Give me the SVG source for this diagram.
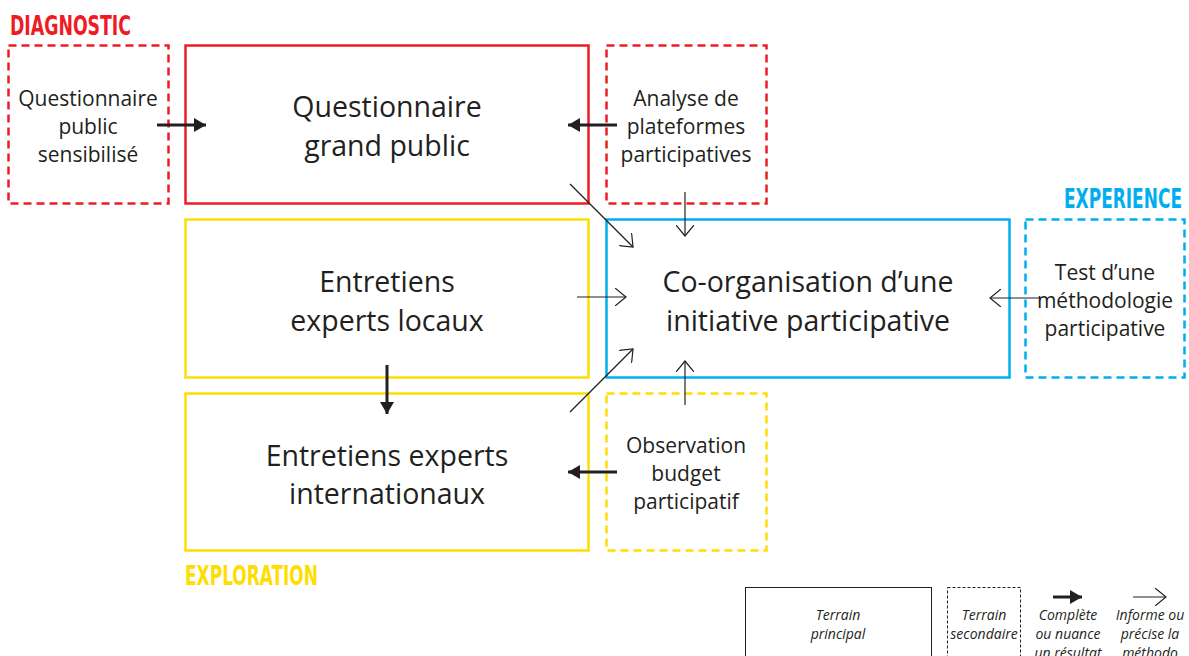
<svg xmlns="http://www.w3.org/2000/svg" width="1189" height="656" viewBox="0 0 1189 656">
<style>
.t{font-family:"Open Sans","Noto Sans",sans-serif;fill:#231F20;text-anchor:middle}
.big{font-size:28.5px}
.sm{font-size:21px}
.lg{font-family:"Open Sans","Noto Sans",sans-serif;fill:#231F20;text-anchor:middle;font-size:14px;font-style:italic}
.hd{font-family:"DejaVu Sans Condensed","DejaVu Sans",sans-serif;font-weight:bold;font-size:27px}
.box{fill:none;stroke-width:2.5}
.dash{stroke-dasharray:8 5}
.red{stroke:#ED1C24}
.yel{stroke:#FFDD00}
.blu{stroke:#00AEEF}
.thick{stroke:#231F20;stroke-width:3;fill:none}
.thin{stroke:#231F20;stroke-width:1.2;fill:none}
</style>
<defs>
<marker id="hT" viewBox="0 0 12 14" refX="12" refY="7" markerWidth="12" markerHeight="14" markerUnits="userSpaceOnUse" orient="auto">
<path d="M0,0 L12,7 L0,14 Z" fill="#231F20"/>
</marker>
<marker id="hN" viewBox="0 0 12 18" refX="11" refY="9" markerWidth="12" markerHeight="18" markerUnits="userSpaceOnUse" orient="auto">
<path d="M0,0 L11,9 L0,18" fill="none" stroke="#231F20" stroke-width="1.2"/>
</marker>
</defs>

<text class="hd" x="10" y="35" fill="#ED1C24" textLength="121" lengthAdjust="spacingAndGlyphs">DIAGNOSTIC</text>
<text class="hd" x="1064" y="208" fill="#00AEEF" textLength="118" lengthAdjust="spacingAndGlyphs">EXPERIENCE</text>
<text class="hd" x="185" y="585" fill="#FFDD00" textLength="133" lengthAdjust="spacingAndGlyphs">EXPLORATION</text>

<g id="q-sensibilise">
<rect class="box dash red" x="8.5" y="45.5" width="160" height="158"/>
<text class="t sm" x="88" y="106">Questionnaire</text>
<text class="t sm" x="88" y="134">public</text>
<text class="t sm" x="88" y="162">sensibilisé</text>
</g>
<g id="q-grand-public">
<rect class="box red" x="185.5" y="45.5" width="403" height="158"/>
<text class="t big" x="387" y="117">Questionnaire</text>
<text class="t big" x="387" y="156">grand public</text>
</g>
<g id="analyse">
<rect class="box dash red" x="606.5" y="45.5" width="160" height="158"/>
<text class="t sm" x="686" y="106">Analyse de</text>
<text class="t sm" x="686" y="134">plateformes</text>
<text class="t sm" x="686" y="162">participatives</text>
</g>
<g id="locaux">
<rect class="box yel" x="185.5" y="219.5" width="403" height="158"/>
<text class="t big" x="387" y="292">Entretiens</text>
<text class="t big" x="387" y="331">experts locaux</text>
</g>
<g id="coorg">
<rect class="box blu" x="606.5" y="219.5" width="403" height="158"/>
<text class="t big" x="808" y="292">Co-organisation d’une</text>
<text class="t big" x="808" y="331">initiative participative</text>
</g>
<g id="test">
<rect class="box dash blu" x="1025.5" y="219.5" width="159" height="158"/>
<text class="t sm" x="1105" y="280">Test d’une</text>
<text class="t sm" x="1105" y="308">méthodologie</text>
<text class="t sm" x="1105" y="336">participative</text>
</g>
<g id="internationaux">
<rect class="box yel" x="185.5" y="393.5" width="403" height="157"/>
<text class="t big" x="387" y="466">Entretiens experts</text>
<text class="t big" x="387" y="504">internationaux</text>
</g>
<g id="observation">
<rect class="box dash yel" x="606.5" y="393.5" width="160" height="157"/>
<text class="t sm" x="686" y="453">Observation</text>
<text class="t sm" x="686" y="481">budget</text>
<text class="t sm" x="686" y="509">participatif</text>
</g>

<g id="connectors">
<line class="thick" x1="157" y1="125" x2="206" y2="125" marker-end="url(#hT)"/>
<line class="thick" x1="617" y1="125" x2="568" y2="125" marker-end="url(#hT)"/>
<line class="thick" x1="387" y1="365" x2="387" y2="414" marker-end="url(#hT)"/>
<line class="thick" x1="617" y1="472" x2="568" y2="472" marker-end="url(#hT)"/>
<line class="thin" x1="570" y1="184" x2="633" y2="247" marker-end="url(#hN)"/>
<line class="thin" x1="685" y1="192" x2="685" y2="236" marker-end="url(#hN)"/>
<line class="thin" x1="577" y1="297" x2="626" y2="297" marker-end="url(#hN)"/>
<line class="thin" x1="1040" y1="298" x2="990" y2="298" marker-end="url(#hN)"/>
<line class="thin" x1="570" y1="412" x2="633" y2="349" marker-end="url(#hN)"/>
<line class="thin" x1="685" y1="405" x2="685" y2="361" marker-end="url(#hN)"/>
</g>

<g id="legend">
<rect x="745.5" y="587.5" width="186" height="80" fill="none" stroke="#231F20" stroke-width="1"/>
<text class="lg" x="838" y="620">Terrain</text>
<text class="lg" x="838" y="639">principal</text>
<rect x="947.5" y="587.5" width="73" height="80" fill="none" stroke="#231F20" stroke-width="1" stroke-dasharray="3 2"/>
<text class="lg" x="984" y="620">Terrain</text>
<text class="lg" x="984" y="639">secondaire</text>
<line class="thick" x1="1053" y1="597" x2="1082" y2="597" marker-end="url(#hT)"/>
<text class="lg" x="1068" y="620">Complète</text>
<text class="lg" x="1068" y="639">ou nuance</text>
<text class="lg" x="1068" y="658">un résultat</text>
<line class="thin" x1="1133" y1="597" x2="1166" y2="597" marker-end="url(#hN)"/>
<text class="lg" x="1150" y="620">Informe ou</text>
<text class="lg" x="1150" y="639">précise la</text>
<text class="lg" x="1150" y="658">méthodo</text>
</g>
</svg>
